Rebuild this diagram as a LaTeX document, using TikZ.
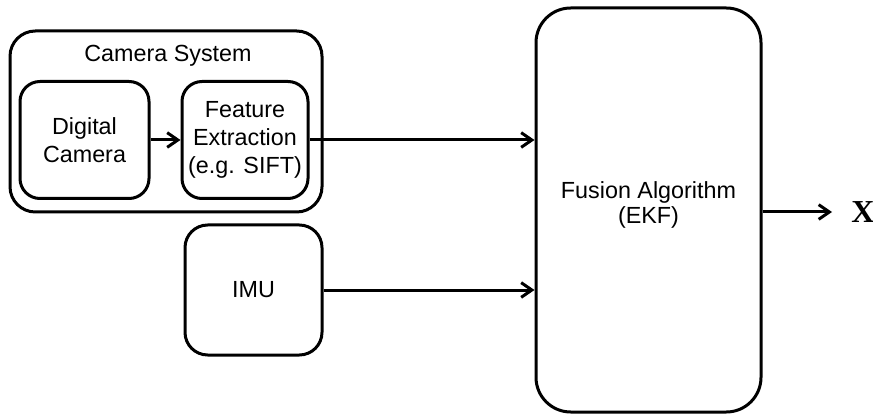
\documentclass[tikz,border=0pt]{standalone}
\usepackage{fontspec}
\setmainfont{Liberation Sans}
\newfontfamily\outfont{Liberation Serif}
\usetikzlibrary{arrows.meta}

\begin{document}
\begin{tikzpicture}[x=0.75pt,y=0.75pt,yscale=-1,xscale=1,
  blk/.style={draw,line width=2.25pt,rounded corners=15pt,align=center,
    font=\fontsize{17.5}{21}\selectfont,inner sep=0pt},
  conn/.style={line width=2.25pt,-{Straight Barb[length=8pt,width=11pt,line width=2.25pt]}}]
\useasboundingbox (0,0) rectangle (873,416);

%Camera system [outer box]
\node [blk,rounded corners=19pt,minimum width=312*0.75pt,minimum height=181*0.75pt] (camsys) at (166,121.5) {};
\node [font=\fontsize{17.5}{21}\selectfont] (camsyslbl) at (168,56) {Camera System};
%Inner boxes
\node [blk,minimum width=129*0.75pt,minimum height=117*0.75pt] (digcam) at (84.5,140) {Digital\\Camera};
\node [blk,minimum width=126*0.75pt,minimum height=117*0.75pt] (featext) at (245,140) {Feature\\Extraction\\(e.g. SIFT)};
%IMU
\node [blk,rounded corners=17pt,minimum width=137*0.75pt,minimum height=130*0.75pt] (imu) at (253.5,290) {IMU};
%Fusion
\node [blk,rounded corners=26pt,minimum width=225*0.75pt,minimum height=404*0.75pt] (fusion) at (648.5,210) {};
\node [align=center,font=\fontsize{17.5}{19}\selectfont] (fusionlbl) at (648.5,205) {Fusion Algorithm\\(EKF)};

% Output
\coordinate (outend) at (832,212);
\node [font=\outfont\bfseries\fontsize{24}{26}\selectfont] (state) at (863,212) {X};

%Connectors
\draw [conn] (digcam) -- (featext);
\draw [conn] (featext) -- (featext -| fusion.west);
\draw [conn] (imu) -- (imu -| fusion.west);
\draw [conn] (fusion.east |- outend) -- (outend);

\end{tikzpicture}
\end{document}
